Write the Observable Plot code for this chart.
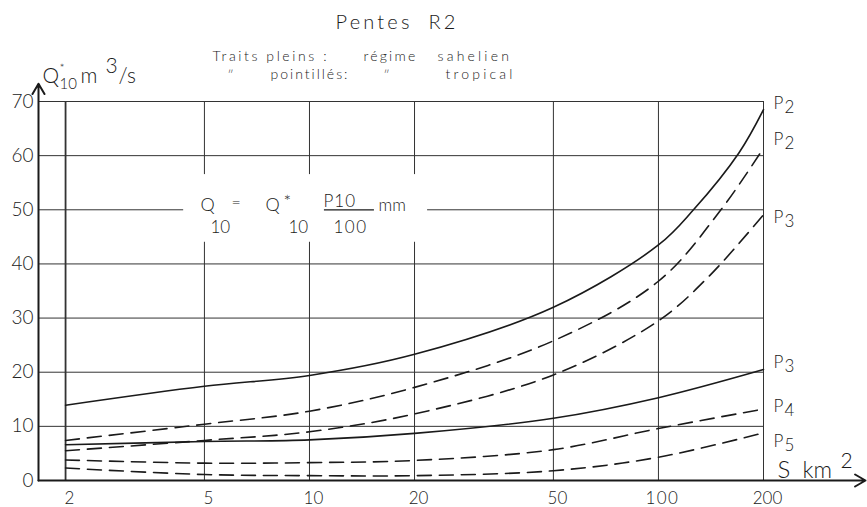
<!DOCTYPE html>
<html><head><meta charset="utf-8">
<script src="https://cdn.jsdelivr.net/npm/d3@7"></script>
<script src="https://cdn.jsdelivr.net/npm/@observablehq/plot@0.6"></script>
<style>body{margin:0;background:#fff} svg{display:block}</style>
</head><body><div id="chart"></div>
<script>
// ---- data ----
const areaTicks = [2, 5, 10, 20, 50, 100, 200];          // S km2 (log)
const qTicks = [0, 10, 20, 30, 40, 50, 60, 70];           // Q*10 m3/s

const S_sahelP2 = [2, 5, 10, 20, 50, 100, 126, 170, 200];
const Q_sahelP2 = [13.9, 17.4, 19.4, 23.3, 32.0, 43.5, 50, 60.5, 68.5];
const S_sahelP3 = [2, 5, 10, 20, 50, 100, 200];
const Q_sahelP3 = [6.6, 7.2, 7.5, 8.7, 11.5, 15.3, 20.5];

const S_tropP2 = [2, 5, 10, 20, 50, 100, 151, 200];
const Q_tropP2 = [7.4, 10.4, 12.8, 17.2, 25.8, 36.8, 50, 61.4];
const S_tropP3 = [2, 5, 10, 20, 50, 100, 140, 200];
const Q_tropP3 = [5.5, 7.4, 9.0, 12.3, 19.5, 29.5, 37.8, 49.1];
const S_tropP4 = [2, 5, 10, 20, 50, 100, 200];
const Q_tropP4 = [3.8, 3.2, 3.3, 3.7, 5.7, 9.6, 13.2];
const S_tropP5 = [2, 5, 10, 20, 50, 100, 200];
const Q_tropP5 = [2.3, 1.1, 0.9, 0.9, 1.8, 4.3, 8.8];

const endLabels = ["2", "2", "3", "3", "4", "5"];           // P subscripts
const endLabelQ = [68.7, 61.9, 47.6, 20.7, 12.6, 6.1];

// ---- tables ----
function rows(name, S, Q) { return S.map((s, i) => ({curve: name, S: s, Q: Q[i]})); }
const solid = [...rows("sP2", S_sahelP2, Q_sahelP2), ...rows("sP3", S_sahelP3, Q_sahelP3)];
const dashed = [...rows("tP2", S_tropP2, Q_tropP2), ...rows("tP3", S_tropP3, Q_tropP3),
                ...rows("tP4", S_tropP4, Q_tropP4), ...rows("tP5", S_tropP5, Q_tropP5)];
const labels = endLabels.map((d, i) => ({sub: d, Q: endLabelQ[i]}));

const X_MIN = 1.673, X_ARROW = 392, Y_ARROW = 73.3;
const FONT = "Lato, 'Open Sans', 'Liberation Sans', sans-serif";
const INK = "#1a1a1a";
const ML = 38, MT = 101;

function ann(text, px, py, size, extra = {}) {
  return Plot.text([text], {text: d => d, frameAnchor: "top-left", dx: px - ML, dy: py - MT,
    textAnchor: "start", lineAnchor: "bottom", fontSize: size, fill: INK, fontWeight: 300, ...extra});
}

const chart = Plot.plot({
  width: 867, height: 507,
  marginLeft: ML, marginRight: 104, marginTop: MT, marginBottom: 27,
  style: {fontFamily: FONT, background: "#fff", color: INK},
  x: {type: "log", domain: [X_MIN, 200], axis: null},
  y: {domain: [0, 70], axis: null},
  marks: [
    Plot.ruleY(qTicks.filter(d => d > 0), {y: d => d, stroke: "#333", strokeWidth: 1}),
    Plot.ruleX(areaTicks, {x: d => d, y1: 0, y2: 70, stroke: "#333", strokeWidth: d => d === 2 ? 1.8 : 1}),
    // white box behind the formula
    Plot.rect([{a: 4.36, b: 21.8, c: 44, d: 56.5}], {x1: "a", x2: "b", y1: "c", y2: "d", fill: "white"}),
    Plot.link([{a: 11, b: 15.3, c: 50}], {x1: "a", x2: "b", y1: "c", y2: "c", stroke: INK, strokeWidth: 1.2}),
    Plot.line(solid, {x: "S", y: "Q", z: "curve", curve: "catmull-rom", stroke: INK, strokeWidth: 1.6}),
    Plot.line(dashed, {x: "S", y: "Q", z: "curve", curve: "catmull-rom", stroke: INK, strokeWidth: 1.6, strokeDasharray: "14,8"}),
    // axes with arrows
    Plot.arrow([{a: X_MIN, b: X_ARROW}], {x1: "a", x2: "b", y1: () => 0, y2: () => 0, stroke: INK, strokeWidth: 2, headLength: 9}),
    Plot.arrow([{a: X_MIN}], {x1: "a", x2: "a", y1: () => 0, y2: () => Y_ARROW, stroke: INK, strokeWidth: 2, headLength: 9}),
    // tick labels
    Plot.text(qTicks, {x: () => X_MIN, y: d => d, text: d => String(d), dx: -5, textAnchor: "end", lineAnchor: "middle", fontSize: 19, fontWeight: 300, fill: "#222"}),
    Plot.text(areaTicks, {x: d => d, y: () => 0, text: d => String(d), dx: 4, dy: 11, lineAnchor: "top", fontSize: 17, fontWeight: 300, fill: "#222"}),
    // end labels
    Plot.text(labels, {x: () => 200, y: "Q", text: () => "P", dx: 10, textAnchor: "start", lineAnchor: "bottom", fontSize: 17, fontWeight: 300, fill: INK}),
    Plot.text(labels, {x: () => 200, y: "Q", text: "sub", dx: 21, dy: 4, textAnchor: "start", lineAnchor: "bottom", fontSize: 17, fontWeight: 300, fill: INK}),
    ann("S", 777, 477, 24), ann("km", 802, 477, 23), ann("2", 840, 467, 21),
    // titles
    ann("Pentes", 335, 28, 20), ann("R2", 428, 28, 20),
    ann("Traits pleins :", 212, 60, 14),
    ann("régime", 363, 60, 14),
    ann("sahelien", 437, 60, 14),
    ann("\u2033", 227, 78, 12), ann("pointillés:", 270, 78, 14),
    ann("\u2033", 383, 78, 12), ann("tropical", 445, 78, 14),
    // y-axis label
    ann("Q", 42, 82, 21), ann("*", 59, 71, 12), ann("10", 59, 88, 15),
    ann("m", 80, 82, 21), ann("3", 105, 72, 21), ann("/s", 118, 82, 21),
    // formula
    ann("Q", 200, 210, 18), ann("=", 231, 207, 16), ann("10", 210, 232, 17),
    ann("Q", 265, 210, 18), ann("*", 283, 207, 18), ann("10", 288, 232, 17),
    ann("P10", 323, 206, 17), ann("100", 333, 232, 17),
    ann("mm", 378, 210, 17)
  ]
});
// letter spacing of the hand-lettered titles
const spacing = new Map([["Pentes", 3.2], ["R2", 3.2], ["Traits pleins :", 2.6], ["régime", 2.2],
  ["sahelien", 3.2], ["pointillés:", 2], ["tropical", 3.2], ["P10", 1], ["100", 1.5]]);
d3.select(chart).selectAll("text").each(function () {
  const s = spacing.get(this.textContent);
  if (s != null) this.setAttribute("letter-spacing", s);
});
document.getElementById("chart").append(chart);
</script>
</body></html>
